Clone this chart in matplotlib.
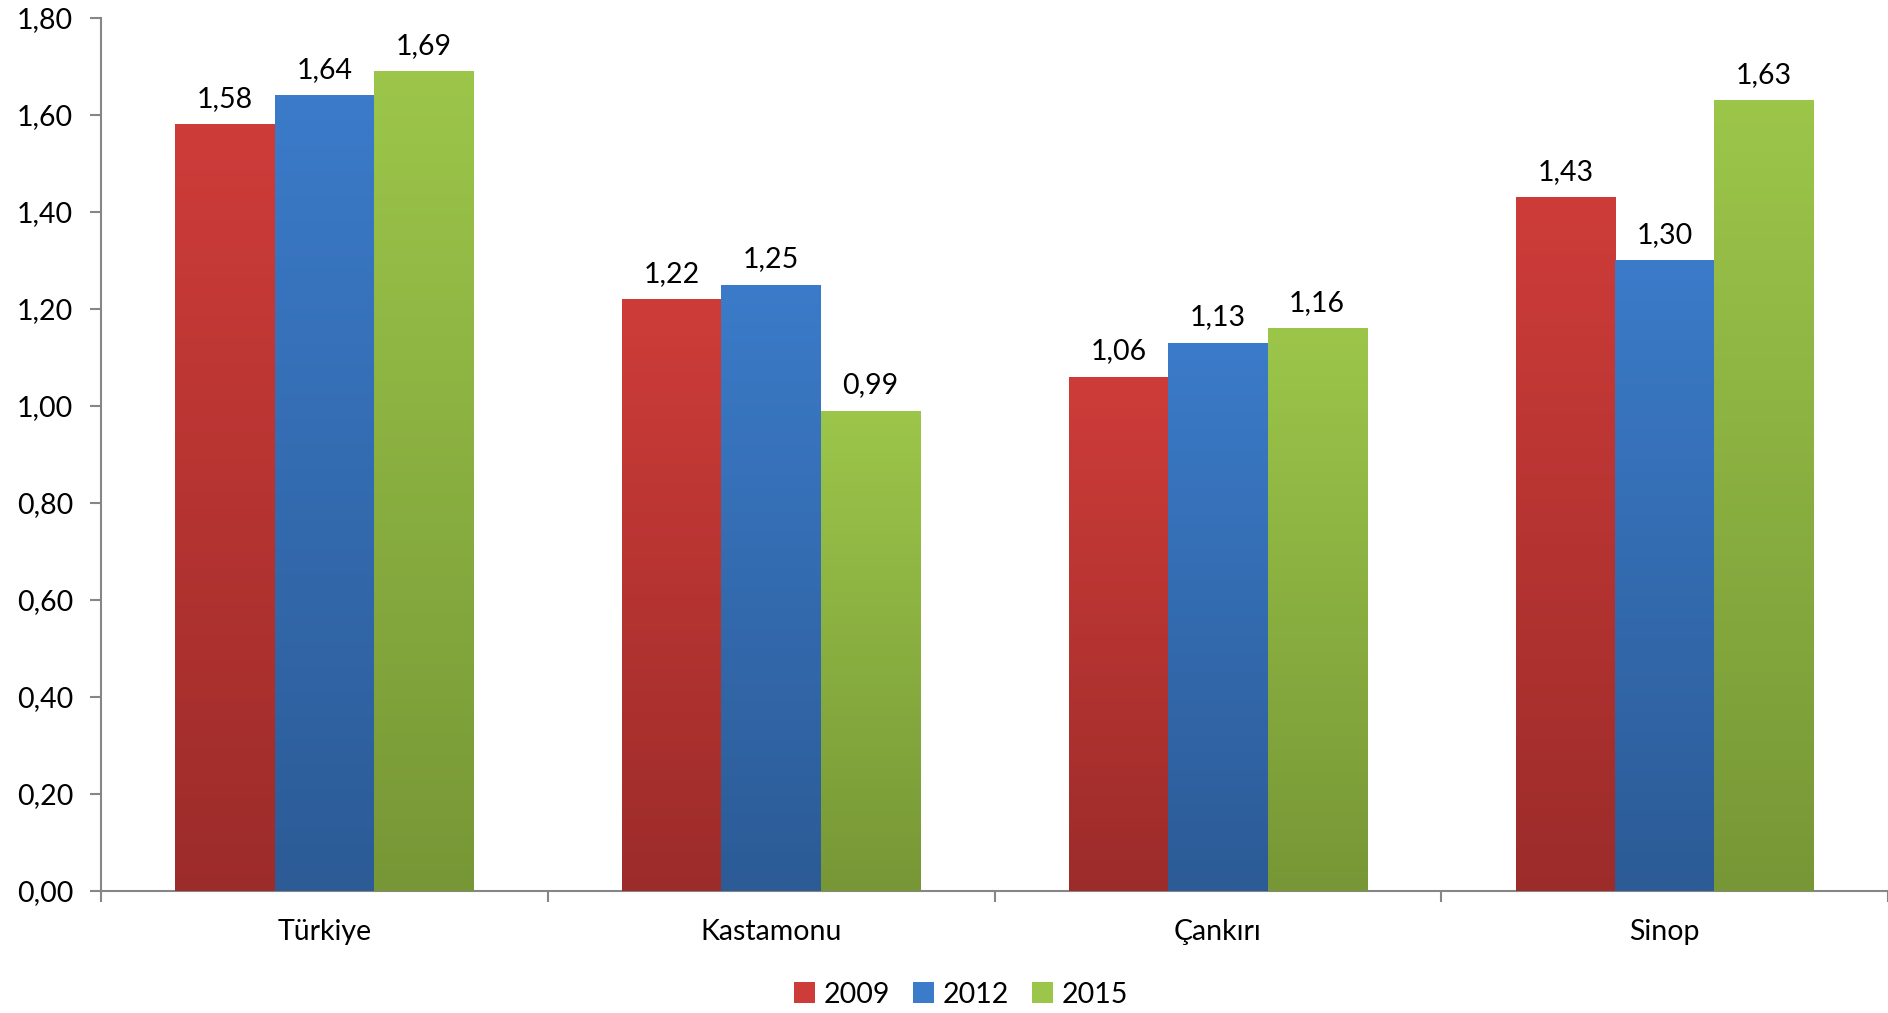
import matplotlib
matplotlib.use("Agg")
import matplotlib.pyplot as plt
import numpy as np
from matplotlib.colors import LinearSegmentedColormap
from matplotlib.patches import Patch

categories = ["Türkiye", "Kastamonu", "Çankırı", "Sinop"]
series_names = ["2009", "2012", "2015"]
v2009 = [1.58, 1.22, 1.06, 1.43]
v2012 = [1.64, 1.25, 1.13, 1.30]
v2015 = [1.69, 0.99, 1.16, 1.63]
yticks = [0.0, 0.2, 0.4, 0.6, 0.8, 1.0, 1.2, 1.4, 1.6, 1.8]

values = [v2009, v2012, v2015]
top_colors = ["#CE3C39", "#3B7BC9", "#9CC64A"]
bot_colors = ["#9C2C2A", "#2C5B96", "#779736"]

plt.rcParams['font.family'] = ['Lato', 'DejaVu Sans']
FS = 20.5

fig = plt.figure(figsize=(18.88, 10.13), dpi=100)
ax = fig.add_axes([0.0535, 0.1205, 0.9465, 0.862])

x = np.arange(len(categories))
w = 1 / 4.5
fmt = lambda v: f"{v:.2f}".replace('.', ',')

for i, (vals, tc, bc) in enumerate(zip(values, top_colors, bot_colors)):
    offs = (i - 1) * w
    bars = ax.bar(x + offs, vals, width=w, color=tc, edgecolor='none', zorder=2)
    cmap = LinearSegmentedColormap.from_list(f"g{i}", [bc, tc])
    grad = np.linspace(0, 1, 256).reshape(-1, 1)
    for b, v in zip(bars, vals):
        x0 = b.get_x()
        im = ax.imshow(grad, cmap=cmap, origin='lower', aspect='auto',
                       extent=[x0, x0 + b.get_width(), 0, v], zorder=3,
                       interpolation='bilinear')
        im.set_clip_path(b)
        ax.annotate(fmt(v), (b.get_x() + b.get_width() / 2, v),
                    xytext=(0, 9), textcoords='offset points',
                    ha='center', va='bottom', fontsize=FS, color='black', zorder=4)

ax.set_xlim(-0.5, len(categories) - 0.5)
ax.set_ylim(0, 1.8)
ax.set_yticks(yticks)
ax.set_yticklabels([fmt(t) for t in yticks], fontsize=FS)
ax.set_xticks(x)
ax.set_xticklabels(categories, fontsize=FS)
ax.tick_params(axis='x', length=0, pad=20)
ax.set_xticks(np.arange(-0.5, len(categories), 1), minor=True)
ax.tick_params(axis='x', which='minor', length=8, color='#868686', width=1.5, direction='out')
ax.tick_params(axis='y', length=8, color='#868686', width=1.5, direction='out', pad=12)

for s in ['top', 'right']:
    ax.spines[s].set_visible(False)
for s in ['left', 'bottom']:
    ax.spines[s].set_color('#868686')
    ax.spines[s].set_linewidth(1.5)

handles = [Patch(facecolor=c, edgecolor='none') for c in top_colors]
fig.legend(handles, series_names, loc='center', bbox_to_anchor=(0.509, 0.018),
           ncol=3, frameon=False, fontsize=FS, handlelength=0.75, handleheight=0.75,
           handletextpad=0.3, columnspacing=0.8)

fig.savefig("out.png", dpi=100)
